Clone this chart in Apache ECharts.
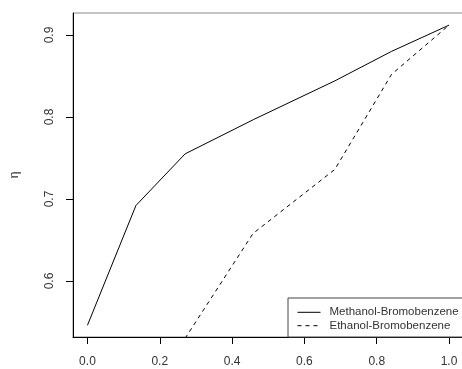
<!DOCTYPE html>
<html>
<head>
<meta charset="utf-8">
<script src="https://cdn.jsdelivr.net/npm/echarts@6/dist/echarts.min.js"></script>
<style>
  html, body { margin: 0; padding: 0; background: #fff; }
  #chart { width: 462px; height: 369px; }
</style>
</head>
<body>
<div id="chart"></div>
<script>
// mole fraction vs viscosity-like quantity (eta)
const methanolX = [0, 0.134, 0.27, 0.46, 0.684, 0.841, 1.0];
const methanolY = [0.546, 0.692, 0.755, 0.797, 0.844, 0.880, 0.912];
const ethanolX = [0.27, 0.458, 0.684, 0.841, 1.0];
const ethanolY = [0.530, 0.658, 0.736, 0.852, 0.912];
const xTicks = [0, 0.2, 0.4, 0.6, 0.8, 1.0];
const yTicks = [0.6, 0.7, 0.8, 0.9];
const seriesNames = ['Methanol-Bromobenzene', 'Ethanol-Bromobenzene'];

const zip = (xs, ys) => xs.map((x, i) => [x, ys[i]]);
const font = 'Liberation Sans, Arial, sans-serif';

const chart = echarts.init(document.getElementById('chart'));
chart.setOption({
  animation: false,
  grid: {
    left: 73, top: 13, width: 390.5, height: 324,
    show: true, borderColor: '#888', borderWidth: 1,
    outerBoundsMode: 'none'
  },
  xAxis: {
    type: 'value', min: -0.04, max: 1.04,
    axisLine: { show: true, onZero: false, lineStyle: { color: '#000' } },
    axisTick: { show: true, length: 7, customValues: xTicks, lineStyle: { color: '#000' } },
    axisLabel: {
      customValues: xTicks, margin: 19, fontSize: 12, fontFamily: font, color: '#333',
      formatter: v => v.toFixed(1)
    },
    splitLine: { show: false }
  },
  yAxis: {
    type: 'value', min: 0.5317, max: 0.9268,
    name: 'η', nameLocation: 'middle', nameGap: 52, nameRotate: 90,
    nameTextStyle: { fontSize: 12, fontFamily: font, color: '#333' },
    axisLine: { show: true, onZero: false, lineStyle: { color: '#000' } },
    axisTick: { show: true, length: 7, customValues: yTicks, lineStyle: { color: '#000' } },
    axisLabel: {
      customValues: yTicks, rotate: 90, margin: 17, fontSize: 12, fontFamily: font, color: '#333',
      formatter: v => v.toFixed(1)
    },
    splitLine: { show: false }
  },
  legend: {
    orient: 'vertical', left: 288, top: 298,
    padding: [7.6, 12, 4.6, 9],
    itemGap: 0, itemWidth: 23, itemHeight: 8,
    borderColor: '#444', borderWidth: 1, backgroundColor: '#fff',
    itemStyle: { opacity: 0 },
    lineStyle: { width: 1 },
    textStyle: { fontSize: 11.5, fontFamily: font, color: '#333', lineHeight: 13.4, padding: [0, 0, 0, 4] },
    data: seriesNames
  },
  series: [
    {
      name: seriesNames[0], type: 'line', symbol: 'none',
      lineStyle: { color: '#000', width: 1 },
      itemStyle: { color: '#000' },
      data: zip(methanolX, methanolY)
    },
    {
      name: seriesNames[1], type: 'line', symbol: 'none',
      lineStyle: { color: '#000', width: 1, type: [4, 4] },
      itemStyle: { color: '#000' },
      data: zip(ethanolX, ethanolY)
    }
  ]
});
</script>
</body>
</html>
